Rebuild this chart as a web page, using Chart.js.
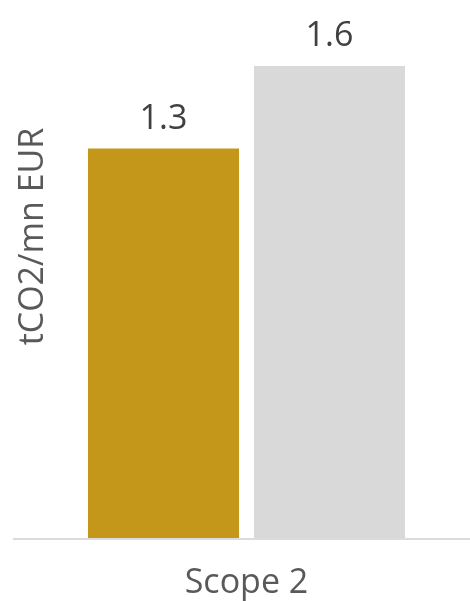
<!DOCTYPE html>
<html>
<head>
<meta charset="utf-8">
<script src="https://cdn.jsdelivr.net/npm/chart.js@4"></script>
<style>
html,body{margin:0;padding:0;background:#fff;overflow:hidden;}
#wrap{width:470px;height:601px;position:relative;}
</style>
</head>
<body>
<div id="wrap"><canvas id="c" width="470" height="601"></canvas></div>
<script>
const categories = ["Scope 2"];
const seriesA = [1.32];
const seriesB = [1.6];
const seriesColors = ["#C4961A", "#D9D9D9"];
const yTitle = "tCO2/mn EUR";

const FONT = "'Open Sans', sans-serif";

const labelPlugin = {
  id: 'labels',
  afterDatasetsDraw(chart) {
    const ctx = chart.ctx;
    ctx.save();
    ctx.font = "34px " + FONT;
    ctx.fillStyle = "#404040";
    ctx.textAlign = "center";
    ctx.textBaseline = "alphabetic";
    chart.data.datasets.forEach((ds, i) => {
      const meta = chart.getDatasetMeta(i);
      meta.data.forEach((bar, j) => {
        ctx.fillText(Number(ds.data[j]).toFixed(1), bar.x, bar.y - 20);
      });
    });
    ctx.restore();
  },
  afterDraw(chart) {
    const ctx = chart.ctx;
    const y = chart.scales.y.getPixelForValue(0);
    ctx.save();
    ctx.strokeStyle = "#DCDCDC";
    ctx.lineWidth = 2;
    ctx.beginPath();
    ctx.moveTo(13, y + 1);
    ctx.lineTo(470, y + 1);
    ctx.stroke();
    // y axis title
    ctx.translate(33, 236.5);
    ctx.rotate(-Math.PI / 2);
    ctx.font = "34px " + FONT;
    ctx.fillStyle = "#595959";
    ctx.textAlign = "center";
    ctx.textBaseline = "middle";
    ctx.fillText(yTitle, 0, 0);
    ctx.restore();
  }
};

new Chart(document.getElementById('c'), {
  type: 'bar',
  data: {
    labels: categories,
    datasets: [
      { data: seriesA, backgroundColor: seriesColors[0], barPercentage: 0.91, categoryPercentage: 0.89 },
      { data: seriesB, backgroundColor: seriesColors[1], barPercentage: 0.91, categoryPercentage: 0.89 }
    ]
  },
  options: {
    responsive: false,
    animation: false,
    layout: { padding: { top: 7, right: 37, left: 60, bottom: -20 } },
    plugins: { legend: { display: false }, tooltip: { enabled: false } },
    scales: {
      x: {
        grid: { display: false },
        border: { display: false },
        ticks: { color: "#595959", font: { family: FONT, size: 34, lineHeight: 0.44 }, padding: 30 }
      },
      y: {
        display: false,
        min: 0, max: 1.8
      }
    }
  },
  plugins: [labelPlugin]
});
</script>
</body>
</html>
